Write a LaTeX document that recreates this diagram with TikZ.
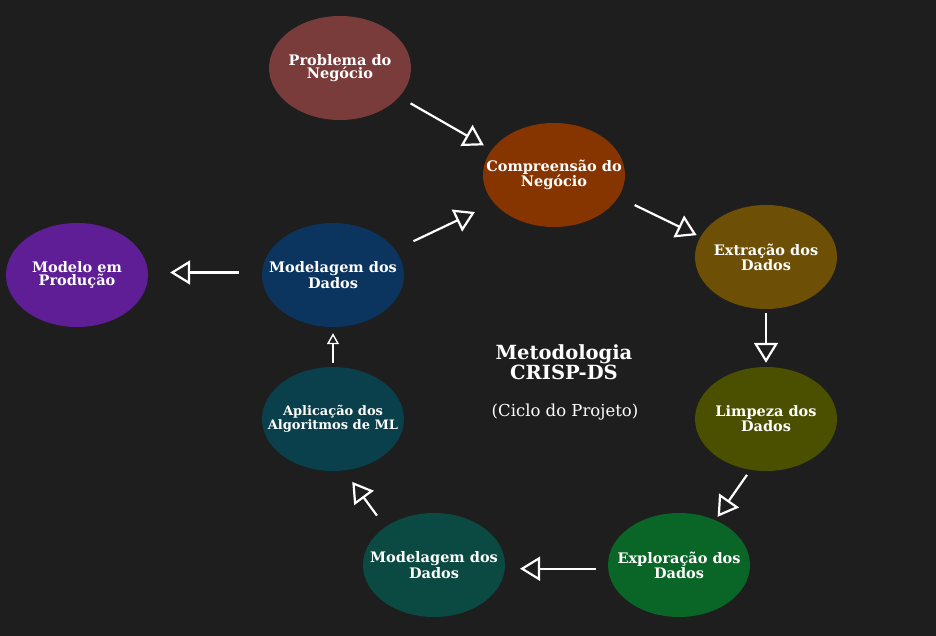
\documentclass[tikz,border=0pt]{standalone}
\usepackage{fontspec}
\setmainfont{DejaVu Serif}
\usetikzlibrary{shapes.geometric,arrows.meta}
\definecolor{fundo}{HTML}{1E1E1E}
\definecolor{cprob}{HTML}{7A3B3B}
\definecolor{ccomp}{HTML}{873500}
\definecolor{cextr}{HTML}{6E4F06}
\definecolor{climp}{HTML}{4B5000}
\definecolor{cexpl}{HTML}{0A6627}
\definecolor{cmodb}{HTML}{0B4A42}
\definecolor{capl}{HTML}{0A3F4C}
\definecolor{cmoda}{HTML}{0B355E}
\definecolor{cprod}{HTML}{5F1E95}
\begin{document}
\begin{tikzpicture}[x=1pt,y=-1pt,
  etapa/.style={ellipse, minimum width=142pt, minimum height=104pt, inner xsep=-30pt, inner ysep=0pt,
    text=white, align=center, font=\bfseries\fontsize{14.5}{13}\selectfont},
  seta/.style={draw=white, line width=2.2pt, -{Triangle[open,length=20pt,width=24pt]}},
  setinha/.style={draw=white, line width=1.4pt, -{Triangle[open,length=11pt,width=12pt]}}]
\fill[fundo] (0,0) rectangle (936,636);

\node[etapa, fill=cprob] (prob) at (340,68) {Problema do\\Negócio};
\node[etapa, fill=ccomp] (comp) at (554,175) {Compreensão do\\Negócio};
\node[etapa, fill=cextr] (extr) at (766,257) {Extração dos\\Dados};
\node[etapa, fill=climp] (limp) at (766,419) {Limpeza dos\\Dados};
\node[etapa, fill=cexpl] (expl) at (679,565) {Exploração dos\\Dados};
\node[etapa, fill=cmodb] (modb) at (434,565) {Modelagem dos\\Dados};
\node[etapa, fill=capl, font=\bfseries\fontsize{13}{12.5}\selectfont] (apl) at (333,419) {Aplicação dos\\Algoritmos de ML};
\node[etapa, fill=cmoda] (moda) at (333,275) {Modelagem dos\\Dados};
\node[etapa, fill=cprod] (prod) at (77,275) {Modelo em\\Produção};

\node[text=white, align=center, font=\bfseries\fontsize{19.5}{14}\selectfont] (titulo) at (564,362) {Metodologia\\CRISP-DS};
\node[text=white, font=\fontsize{16.5}{16}\selectfont] (ciclo) at (565,412) {(Ciclo do Projeto)};

\draw[seta, shorten <=13pt, shorten >=9pt] (prob.-26) -- (comp.158);
\draw[seta, shorten <=20pt, shorten >=21pt] (moda.22) -- (comp.-155);
\draw[seta, shorten <=18pt, shorten >=4pt] (comp.-19) -- (extr.163);
\draw[seta, shorten <=4pt, shorten >=4pt] (extr.south) -- (limp.north);
\draw[seta, shorten <=6pt, shorten >=4pt] (limp.-107) -- (expl.51);
\draw[seta, shorten <=12pt, shorten >=15pt] (expl.-177) -- (modb.-3);
\draw[seta, shorten <=14pt, shorten >=14pt] (modb.142) -- (apl.-78);
\draw[setinha, shorten <=4pt, shorten >=6pt] (apl.north) -- (moda.south);
\draw[seta, shorten <=23pt, shorten >=22pt] (moda.178) -- (prod.2);
\end{tikzpicture}
\end{document}
